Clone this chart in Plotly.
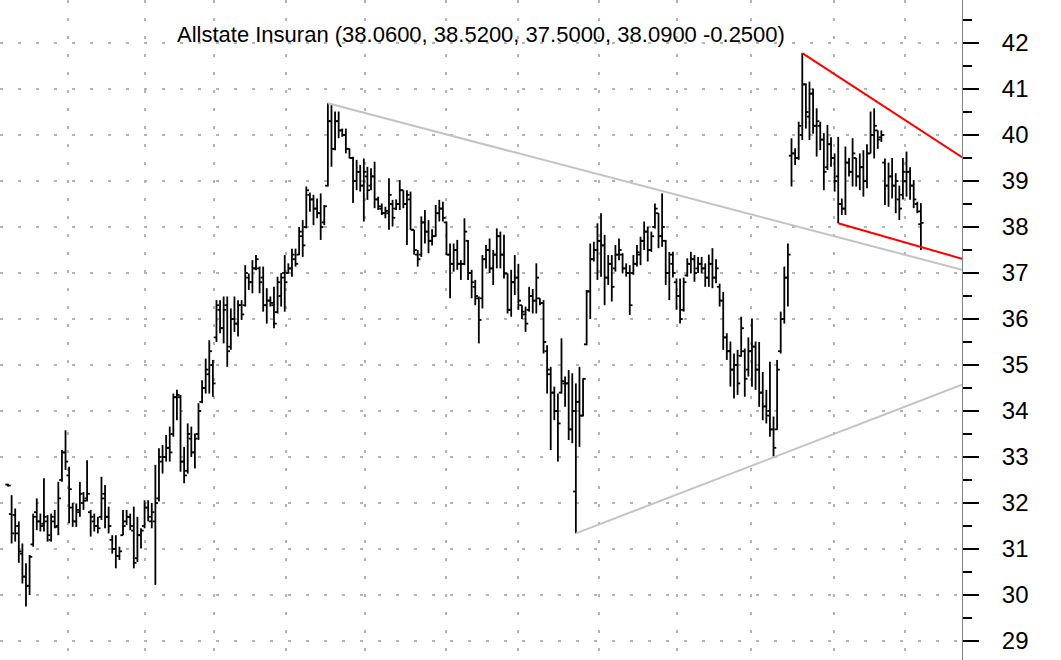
import plotly.graph_objects as go

# daily bars, oldest first
opens = [
    32.40, 31.76, 31.74, 31.50, 30.90, 30.40, 30.20, 31.10, 31.80, 31.60,
    31.55, 31.60, 31.20, 31.60, 31.50, 32.50, 33.10, 32.60, 31.90, 31.60,
    31.80, 32.00, 32.10, 31.80, 31.60, 31.50, 31.70, 32.20, 31.70, 31.20,
    31.00, 30.85, 31.30, 31.60, 31.70, 31.40, 30.80, 31.30, 31.50, 31.90,
    31.60, 31.60, 32.10, 32.90, 33.00, 33.20, 33.50, 34.30, 34.30, 32.90,
    32.70, 33.40, 33.10, 33.50, 34.20, 34.50, 34.80, 35.00, 35.60, 36.20,
    35.80, 36.30, 35.40, 36.00, 35.90, 36.30, 36.30, 36.90, 36.80, 37.10,
    37.10, 36.90, 36.30, 36.40, 36.30, 36.15, 36.50, 37.00, 37.00, 37.10,
    37.30, 37.40, 37.80, 38.00, 38.70, 38.60, 38.40, 38.30, 38.10, 38.90,
    40.30, 39.70, 40.30, 40.10, 40.00, 39.70, 39.50, 39.00, 39.20, 38.90,
    39.10, 38.90, 39.10, 38.60, 38.40, 38.30, 38.30, 38.50, 38.40, 38.50,
    38.80, 38.50, 38.60, 37.94, 37.40, 37.40, 38.10, 37.90, 37.70, 37.80,
    38.30, 38.40, 38.10, 37.40, 37.20, 37.50, 37.20, 37.20, 37.70, 37.00,
    36.70, 36.45, 36.45, 37.30, 37.50, 37.10, 37.40, 37.80, 37.40, 36.99,
    36.20, 36.80, 36.90, 36.30, 36.10, 36.20, 36.50, 36.40, 36.45, 36.35,
    35.30, 34.80, 34.40, 34.00, 34.40, 34.60, 34.60, 33.60, 32.25, 34.20,
    33.90, 35.45, 36.60, 37.30, 37.50, 37.70, 37.60, 36.90, 37.20, 37.10,
    37.40, 37.40, 37.10, 37.00, 37.00, 37.20, 37.40, 37.70, 37.90, 37.50,
    38.00, 38.30, 37.80, 37.70, 37.00, 37.20, 36.80, 36.50, 36.20, 36.95,
    37.20, 37.30, 37.10, 37.20, 37.10, 36.90, 37.20, 36.90, 36.70, 36.40,
    35.60, 35.30, 34.90, 35.00, 35.20, 35.30, 34.90, 35.30, 35.40, 34.90,
    34.40, 34.10, 34.00, 33.60, 33.60, 35.30, 36.00, 36.90, 39.55, 39.60,
    39.50, 40.00, 41.10, 40.40, 40.90, 40.20, 40.20, 39.90, 39.30, 39.80,
    39.50, 39.10, 38.50, 38.40, 39.40, 39.20, 39.50, 39.10, 39.30, 39.00,
    39.60, 40.00, 40.10, 39.95, 39.40, 38.90, 39.10, 38.90, 38.60, 38.70,
    39.00, 39.20, 38.90, 38.50, 38.06,
]
highs = [
    32.42, 32.17, 31.88, 31.60, 31.12, 30.69, 30.87, 31.77, 32.10, 31.77,
    32.54, 31.74, 31.77, 31.85, 32.46, 33.15, 33.58, 32.79, 32.00, 31.99,
    32.46, 32.24, 32.93, 31.85, 31.77, 31.70, 32.57, 32.39, 31.92, 31.30,
    31.30, 31.05, 31.85, 31.85, 31.77, 31.92, 31.70, 31.45, 32.06, 32.06,
    32.00, 32.83, 33.19, 33.26, 33.48, 33.66, 34.38, 34.46, 34.35, 33.22,
    33.73, 33.66, 33.51, 34.17, 34.67, 35.14, 35.54, 35.11, 36.41, 36.41,
    36.49, 36.49, 36.23, 36.49, 36.41, 36.41, 37.17, 36.99, 37.28, 37.39,
    37.14, 37.14, 36.67, 36.49, 36.70, 36.92, 37.00, 37.39, 37.21, 37.53,
    37.53, 38.00, 38.15, 38.88, 38.75, 38.70, 38.62, 38.73, 38.48, 40.69,
    40.65, 40.51, 40.51, 40.14, 40.14, 39.71, 39.53, 39.46, 39.35, 39.49,
    39.31, 39.28, 39.42, 38.66, 38.51, 38.44, 39.06, 38.59, 38.60, 39.02,
    38.80, 38.80, 38.77, 37.94, 37.50, 38.23, 38.37, 38.15, 37.95, 38.48,
    38.59, 38.55, 38.12, 37.64, 37.64, 37.72, 37.28, 38.19, 37.72, 37.07,
    36.85, 36.49, 37.39, 37.61, 37.75, 37.50, 37.97, 37.90, 37.83, 36.99,
    37.07, 37.39, 37.20, 36.30, 36.27, 36.70, 36.65, 37.21, 36.45, 36.41,
    35.43, 34.96, 34.53, 34.38, 35.58, 34.75, 34.89, 34.82, 34.60, 34.96,
    34.71, 36.63, 37.64, 37.68, 38.08, 38.30, 37.83, 37.39, 37.39, 37.61,
    37.75, 37.43, 37.21, 37.17, 37.39, 37.61, 37.79, 38.12, 38.01, 37.90,
    38.51, 38.30, 38.73, 37.72, 37.46, 37.46, 36.88, 36.88, 36.90, 37.32,
    37.46, 37.39, 37.35, 37.35, 37.21, 37.40, 37.54, 37.30, 36.77, 36.59,
    35.69, 35.51, 35.25, 35.33, 36.05, 35.36, 35.60, 36.01, 35.51, 35.50,
    34.85, 34.46, 35.07, 33.88, 35.11, 36.16, 37.14, 37.64, 39.93, 39.71,
    40.29, 41.78, 41.12, 41.16, 41.01, 40.58, 40.29, 40.04, 40.22, 39.95,
    39.60, 39.96, 38.62, 39.75, 39.50, 39.93, 39.50, 39.60, 39.67, 39.80,
    40.51, 40.58, 40.10, 40.10, 39.49, 39.40, 39.50, 39.17, 38.90, 39.50,
    39.64, 39.30, 39.02, 38.55, 38.52,
]
lows = [
    32.36, 31.12, 31.16, 30.70, 30.25, 29.75, 30.00, 31.05, 31.41, 31.38,
    31.38, 31.16, 31.16, 31.45, 31.30, 32.46, 32.72, 31.56, 31.48, 31.48,
    31.70, 31.85, 32.03, 31.27, 31.38, 31.34, 31.63, 31.45, 31.34, 30.90,
    30.58, 30.76, 31.30, 31.52, 31.41, 30.58, 30.72, 31.01, 31.45, 31.60,
    31.45, 30.22, 32.03, 32.64, 32.90, 32.90, 33.44, 33.80, 32.68, 32.43,
    32.64, 33.00, 32.75, 33.37, 34.17, 34.38, 34.38, 34.31, 35.50, 35.69,
    35.47, 34.96, 35.33, 35.72, 35.62, 35.98, 36.27, 36.63, 36.56, 37.06,
    36.56, 36.16, 35.90, 36.27, 35.80, 36.12, 36.27, 36.16, 36.99, 36.92,
    37.14, 37.39, 37.35, 37.97, 38.33, 38.04, 38.19, 37.72, 38.04, 38.88,
    39.31, 39.67, 39.93, 39.96, 39.60, 39.49, 38.52, 38.80, 38.77, 38.12,
    38.59, 38.80, 38.41, 38.37, 38.26, 38.19, 37.94, 38.01, 38.37, 38.37,
    38.41, 37.61, 37.94, 37.40, 37.14, 37.35, 37.64, 37.43, 37.60, 37.79,
    38.12, 38.12, 37.39, 36.45, 37.03, 37.07, 36.85, 37.17, 36.85, 36.45,
    36.30, 35.47, 36.23, 37.10, 37.00, 36.74, 37.10, 37.10, 36.88, 36.12,
    36.05, 36.52, 36.20, 36.00, 35.72, 36.16, 36.12, 36.12, 36.30, 35.25,
    34.38, 33.15, 33.80, 32.90, 34.38, 34.09, 33.37, 33.30, 31.34, 33.22,
    33.88, 35.43, 36.00, 37.25, 36.85, 36.92, 36.30, 36.74, 36.38, 37.03,
    37.28, 36.99, 36.92, 36.09, 36.96, 37.14, 37.17, 37.50, 37.25, 37.46,
    37.97, 37.54, 37.57, 36.74, 36.41, 36.90, 36.20, 35.90, 36.16, 36.92,
    36.99, 36.81, 37.00, 36.99, 36.70, 36.70, 36.67, 36.78, 36.27, 35.33,
    35.11, 34.53, 34.27, 34.35, 35.18, 34.31, 34.75, 34.53, 34.46, 34.09,
    33.80, 33.73, 33.44, 33.01, 33.59, 35.25, 35.90, 36.27, 38.88, 39.35,
    39.46, 39.89, 40.14, 39.89, 40.03, 39.53, 39.67, 38.80, 39.24, 39.31,
    38.77, 38.08, 38.26, 38.26, 39.10, 38.88, 38.88, 38.80, 38.66, 38.84,
    39.60, 39.49, 39.70, 39.85, 38.48, 38.44, 38.62, 38.30, 38.15, 38.60,
    38.66, 38.59, 38.41, 38.30, 37.50,
]
closes = [
    32.38, 31.34, 31.34, 30.95, 30.40, 30.20, 30.83, 31.70, 31.60, 31.50,
    31.70, 31.30, 31.70, 31.48, 32.10, 33.10, 32.90, 32.30, 31.60, 31.85,
    32.20, 32.05, 32.20, 31.70, 31.50, 31.45, 32.10, 31.70, 31.50, 31.00,
    30.85, 30.95, 31.50, 31.70, 31.50, 30.70, 31.30, 31.40, 31.90, 31.70,
    31.80, 32.00, 33.00, 33.00, 33.20, 33.10, 34.30, 34.35, 32.90, 32.60,
    33.50, 33.10, 33.40, 34.00, 34.50, 34.90, 35.30, 34.60, 36.30, 35.80,
    36.20, 35.30, 36.00, 35.90, 36.30, 36.10, 37.00, 36.80, 37.10, 37.30,
    36.80, 36.30, 36.40, 36.35, 35.90, 36.80, 36.90, 36.80, 37.10, 37.40,
    37.20, 37.90, 37.60, 38.80, 38.60, 38.40, 38.30, 38.00, 38.45, 40.30,
    39.70, 40.30, 40.10, 40.00, 39.70, 39.50, 39.00, 39.20, 38.90, 39.20,
    38.80, 39.10, 38.60, 38.45, 38.30, 38.35, 38.70, 38.20, 38.50, 38.80,
    38.50, 38.70, 37.94, 37.50, 37.30, 38.10, 37.90, 37.70, 37.80, 38.30,
    38.40, 38.20, 37.40, 37.20, 37.50, 37.20, 37.20, 37.90, 37.00, 36.80,
    36.50, 35.98, 37.30, 37.50, 37.10, 37.40, 37.80, 37.40, 36.99, 36.20,
    36.80, 36.90, 36.40, 36.16, 35.90, 36.50, 36.40, 36.90, 36.35, 35.50,
    34.90, 34.40, 34.00, 33.73, 34.65, 34.60, 33.60, 34.00, 34.20, 33.90,
    34.70, 36.60, 37.30, 37.50, 37.70, 37.60, 36.90, 37.20, 36.70, 37.40,
    37.50, 37.10, 37.00, 36.30, 37.20, 37.45, 37.70, 37.90, 37.50, 37.80,
    38.40, 37.80, 38.00, 37.00, 37.40, 37.00, 36.50, 36.00, 36.80, 37.20,
    37.30, 37.00, 37.20, 37.10, 36.90, 37.20, 36.90, 37.10, 36.40, 35.60,
    35.30, 34.90, 35.00, 34.60, 35.80, 34.70, 35.30, 35.40, 34.90, 34.40,
    34.10, 33.90, 33.60, 33.20, 34.90, 36.00, 36.90, 37.40, 39.60, 39.50,
    40.20, 41.10, 40.50, 40.90, 40.20, 40.30, 39.90, 39.20, 39.80, 39.50,
    39.00, 38.50, 38.40, 39.40, 39.20, 39.60, 39.10, 39.30, 39.00, 39.60,
    40.00, 40.20, 39.90, 40.00, 38.90, 39.10, 38.90, 39.00, 38.40, 39.20,
    39.20, 38.90, 38.60, 38.34, 38.09,
]

# bar positions where a new month starts (vertical grid)
month_starts = [16.7, 38.1, 57.3, 77.4, 99.3, 121.9, 141.9, 164.4, 186.1, 206.7, 229.8, 249.6]
price_ticks = list(range(29, 43))

# trend lines: (start bar, start price, price at right edge)
grey_lines = [(89, 40.69, 37.07), (158, 31.34, 34.57)]
red_lines = [(221, 41.78, 39.52), (231, 38.08, 37.31)]

x_lo, x_hi = -2.23, 265.44
tick = 0.75  # open/close tick length in bar units

# OHLC bars as one line trace: stem, open tick to the left, close tick to the right
bx, by = [], []
for i, (o, h, l, c) in enumerate(zip(opens, highs, lows, closes)):
    bx += [i, i, None, i - tick, i, None, i, i + tick, None]
    by += [l, h, None, o, o, None, c, c, None]

fig = go.Figure()

fig.add_trace(go.Scatter(
    x=bx, y=by,
    mode="lines",
    line=dict(color="black", width=1.8),
    hoverinfo="skip",
))

for lines, color in ((grey_lines, "#c3c3c3"), (red_lines, "#ff0000")):
    for start, p0, p1 in lines:
        fig.add_trace(go.Scatter(
            x=[start, x_hi], y=[p0, p1],
            mode="lines",
            line=dict(color=color, width=2),
            hoverinfo="skip",
        ))

o, h, l, c = opens[-1], highs[-1], lows[-1], closes[-1]
chg = c - closes[-2]
fig.add_annotation(
    text=f"Allstate Insuran ({o:.4f}, {h:.4f}, {l:.4f}, {c:.4f} {chg:.4f})",
    xref="paper", yref="paper", x=0.5, y=1 - 20 / 660,
    showarrow=False, font=dict(size=22, color="black"),
)

grid = dict(showgrid=True, gridcolor="#b4b4b4", gridwidth=1.5, griddash="3px,15px")

fig.update_layout(
    width=1061,
    height=660,
    margin=dict(l=0, r=99, t=0, b=0),
    paper_bgcolor="white",
    plot_bgcolor="white",
    showlegend=False,
    font=dict(family="Liberation Sans, Arial, sans-serif", color="black"),
    xaxis=dict(
        range=[x_lo, x_hi],
        tickvals=month_starts,
        showticklabels=False,
        ticks="",
        zeroline=False,
        showline=False,
        **grid,
    ),
    yaxis=dict(
        side="right",
        range=[28.587, 42.935],
        tickvals=price_ticks,
        ticks="outside",
        ticklen=16,
        tickwidth=2,
        tickcolor="black",
        showline=True,
        linecolor="#808080",
        linewidth=1,
        zeroline=False,
        tickfont=dict(size=24),
        ticklabelstandoff=18,
        minor=dict(dtick=0.5, tick0=0.5, ticks="outside", ticklen=9,
                   tickwidth=2, tickcolor="black", showgrid=False),
        **grid,
    ),
)

fig.write_html(
    "out.html",
    config={"displayModeBar": False},
    post_script="document.body.style.margin = '0';",
)
